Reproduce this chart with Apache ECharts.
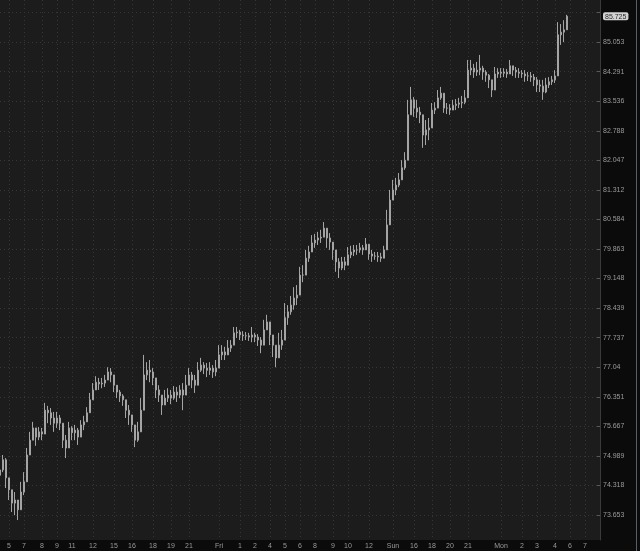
<!DOCTYPE html>
<html><head><meta charset="utf-8">
<script src="https://cdn.jsdelivr.net/npm/echarts@6/dist/echarts.min.js"></script>
<style>html,body{margin:0;padding:0;background:#0b0b0b}#c{width:640px;height:551px}</style>
</head><body><div id="c"></div><script>
const opens=[74.55,74.67,74.90,74.49,74.22,73.92,73.99,73.77,74.17,74.40,
75.01,75.35,75.63,75.42,75.54,75.49,76.04,75.98,75.86,75.74,
75.86,75.74,75.35,75.17,75.63,75.52,75.58,75.42,75.70,75.77,
75.98,76.28,76.51,76.69,76.65,76.67,76.74,76.93,76.86,76.62,
76.46,76.37,76.28,76.04,75.93,75.70,75.35,75.54,76.04,76.86,
76.97,76.93,76.79,76.51,76.39,76.16,76.32,76.39,76.32,76.46,
76.39,76.51,76.39,76.62,76.86,76.74,76.62,76.97,77.09,77.02,
76.97,77.02,76.93,77.02,77.33,77.40,77.33,77.49,77.56,77.85,
77.87,77.80,77.78,77.78,77.75,77.80,77.75,77.68,77.56,77.92,
78.11,77.80,77.56,77.26,77.56,77.68,78.21,78.35,78.51,78.68,
78.75,79.23,79.23,79.64,79.79,80.01,80.08,80.13,80.15,80.37,
80.13,80.03,79.84,79.55,79.40,79.55,79.47,79.72,79.79,79.84,
79.84,79.89,79.84,79.98,79.74,79.69,79.69,79.67,79.64,79.84,
80.45,81.06,81.31,81.43,81.56,81.86,82.05,83.19,83.57,83.36,
83.26,83.19,82.68,82.81,82.86,83.31,83.36,83.62,83.74,83.36,
83.36,83.31,83.43,83.46,83.49,83.51,83.62,84.33,84.38,84.28,
84.33,84.38,84.28,84.20,84.08,83.82,84.23,84.28,84.25,84.28,
84.23,84.44,84.33,84.28,84.25,84.23,84.18,84.18,84.15,84.08,
83.95,83.92,83.77,83.95,84.03,84.08,84.18,85.24,85.31,85.37];
const closes=[74.67,74.90,74.49,74.22,73.92,73.99,73.77,74.17,74.40,75.01,
75.35,75.63,75.42,75.54,75.49,76.04,75.98,75.86,75.74,75.86,
75.74,75.35,75.17,75.63,75.52,75.58,75.42,75.70,75.77,75.98,
76.28,76.51,76.69,76.65,76.67,76.74,76.93,76.86,76.62,76.46,
76.37,76.28,76.04,75.93,75.70,75.35,75.54,76.04,76.86,76.97,
76.93,76.79,76.51,76.39,76.16,76.32,76.39,76.32,76.46,76.39,
76.51,76.39,76.62,76.86,76.74,76.62,76.97,77.09,77.02,76.97,
77.02,76.93,77.02,77.33,77.40,77.33,77.49,77.56,77.85,77.87,
77.80,77.78,77.78,77.75,77.80,77.75,77.68,77.56,77.92,78.11,
77.80,77.56,77.26,77.56,77.68,78.21,78.35,78.51,78.68,78.75,
79.23,79.23,79.64,79.79,80.01,80.08,80.13,80.15,80.37,80.13,
80.03,79.84,79.55,79.40,79.55,79.47,79.72,79.79,79.84,79.84,
79.89,79.84,79.98,79.74,79.69,79.69,79.67,79.64,79.84,80.45,
81.06,81.31,81.43,81.56,81.86,82.05,83.19,83.57,83.36,83.26,
83.19,82.68,82.81,82.86,83.31,83.36,83.62,83.74,83.36,83.36,
83.31,83.43,83.46,83.49,83.51,83.62,84.33,84.38,84.28,84.33,
84.38,84.28,84.20,84.08,83.82,84.23,84.28,84.25,84.28,84.23,
84.44,84.33,84.28,84.25,84.23,84.18,84.18,84.15,84.08,83.95,
83.92,83.77,83.95,84.03,84.08,84.18,85.24,85.31,85.37,85.725];
const highs=[74.85,75.01,74.94,74.49,74.22,74.17,73.99,74.40,74.62,75.17,
75.54,75.77,75.63,75.65,75.63,76.21,76.14,76.09,76.00,76.00,
75.93,75.74,75.47,75.77,75.67,75.70,75.63,75.81,75.91,76.11,
76.44,76.67,76.83,76.79,76.79,76.86,77.04,77.02,76.86,76.62,
76.51,76.41,76.28,76.16,75.93,75.70,75.77,76.32,77.33,77.16,
77.21,77.02,76.79,76.62,76.39,76.51,76.55,76.51,76.60,76.58,
76.62,76.67,76.86,77.02,76.93,76.86,77.16,77.26,77.16,77.14,
77.16,77.09,77.21,77.56,77.56,77.52,77.68,77.68,77.99,77.99,
77.92,77.89,77.87,77.85,77.99,77.85,77.82,77.75,78.16,78.28,
78.11,77.80,77.56,77.85,77.92,78.56,78.51,78.73,78.94,78.99,
79.43,79.47,79.84,79.94,80.20,80.23,80.28,80.33,80.52,80.37,
80.25,80.03,79.84,79.64,79.67,79.67,79.91,79.94,79.96,79.96,
80.01,79.96,80.13,79.98,79.84,79.79,79.79,79.77,79.94,80.82,
81.31,81.56,81.61,81.73,82.05,82.25,83.57,83.90,83.64,83.57,
83.39,83.19,83.06,83.11,83.49,83.51,83.82,83.90,83.74,83.49,
83.46,83.57,83.59,83.62,83.67,83.82,84.59,84.59,84.49,84.54,
84.72,84.44,84.33,84.23,84.08,84.41,84.38,84.38,84.38,84.36,
84.59,84.44,84.41,84.38,84.33,84.33,84.28,84.28,84.23,84.15,
84.08,84.08,84.13,84.15,84.18,84.33,85.57,85.52,85.62,85.76];
const lows=[74.40,74.62,74.26,73.99,73.72,73.65,73.54,73.77,74.10,74.40,
75.01,75.35,75.22,75.35,75.35,75.49,75.74,75.70,75.54,75.63,
75.58,75.17,74.94,75.17,75.35,75.35,75.24,75.42,75.58,75.77,
75.98,76.28,76.51,76.51,76.55,76.58,76.74,76.69,76.46,76.32,
76.23,76.14,75.86,75.70,75.54,75.19,75.31,75.54,76.04,76.74,
76.69,76.62,76.32,76.23,75.93,76.16,76.23,76.18,76.28,76.23,
76.32,76.04,76.39,76.62,76.55,76.44,76.62,76.93,76.88,76.81,
76.86,76.79,76.83,77.02,77.21,77.21,77.33,77.40,77.56,77.73,
77.68,77.66,77.68,77.66,77.63,77.63,77.54,77.37,77.56,77.92,
77.56,77.28,77.04,77.26,77.45,77.68,78.04,78.28,78.40,78.51,
78.75,79.06,79.23,79.55,79.79,79.89,79.96,80.01,80.15,79.89,
79.84,79.60,79.31,79.16,79.35,79.35,79.47,79.64,79.69,79.72,
79.77,79.72,79.84,79.60,79.55,79.60,79.55,79.55,79.64,79.84,
80.45,81.06,81.18,81.38,81.56,81.81,82.05,83.19,83.14,83.11,
82.98,82.36,82.43,82.55,82.86,83.21,83.36,83.57,83.24,83.21,
83.19,83.31,83.31,83.36,83.36,83.46,83.62,84.20,84.13,84.18,
84.20,84.08,84.03,83.87,83.64,83.82,84.13,84.13,84.15,84.13,
84.23,84.18,84.13,84.13,84.13,84.03,84.05,84.03,83.92,83.77,
83.77,83.57,83.74,83.87,83.95,84.00,84.18,84.98,85.05,85.37];

const yTickValues=[73.653,74.318,74.989,75.667,76.351,77.04,77.737,78.439,79.148,79.863,80.584,81.312,82.047,82.788,83.536,84.291,85.053,85.821];
const yTickLabels=['73.653','74.318','74.989','75.667','76.351','77.04','77.737','78.439','79.148','79.863','80.584','81.312','82.047','82.788','83.536','84.291','85.053',''];
const lastPrice=85.725;
const lastPriceText='85.725';
const xTickText=['5','7','8','9','11','12','15','16','18','19','21','Fri','1','2','4','5','6','8','9','10','12','Sun','16','18','20','21','Mon','2','3','4','6','7'];
const xTickBar=[3,8,14,19,24,31,38,44,51,57,63,73,80,85,90,95,100,105,111,116,123,131,138,144,150,156,167,174,179,185,190,195];
const slotCount=201;
const yMin=73.095, yMax=86.148;

const categories=[];
for(let i=0;i<slotCount;i++) categories.push(String(i));
const ohlc=closes.map((c,i)=>[opens[i],c,lows[i],highs[i]]);
const tickSet=new Set(xTickBar);
const labelVals=yTickValues.filter((v,i)=>yTickLabels[i]!=='').concat([lastPrice]);

const chart=echarts.init(document.getElementById('c'),null,{renderer:'canvas'});
const gridColor='#363636';
chart.setOption({
  backgroundColor:'#0b0b0b',
  animation:false,
  grid:{left:0,right:40,top:0,bottom:11,show:true,backgroundColor:'#1c1c1c',borderWidth:0},
  xAxis:{type:'category',data:categories,boundaryGap:false,
    axisLine:{show:false},axisTick:{show:false},
    axisLabel:{interval:(i)=>tickSet.has(i),
      formatter:(v)=>{const k=xTickBar.indexOf(parseInt(v,10));return k>=0?xTickText[k]:'';},
      color:'#9a9a9a',fontSize:7,margin:3,fontFamily:'Liberation Sans'},
    splitLine:{show:true,interval:(i)=>tickSet.has(i),lineStyle:{color:gridColor,type:[1,3],width:1}}},
  yAxis:{type:'log',logBase:10,position:'right',min:yMin,max:yMax,
    axisLine:{show:true,lineStyle:{color:'#3a3a3a'}},
    axisTick:{show:true,inside:true,length:3,customValues:yTickValues,lineStyle:{color:'#5a5a5a'}},
    axisLabel:{customValues:labelVals,color:'#9a9a9a',fontSize:7,margin:3,fontFamily:'Liberation Sans',
      formatter:(v)=>{
        if(Math.abs(v-lastPrice)<1e-6) return '{cur|'+lastPriceText+'}';
        let best=0,bd=1e9;
        yTickValues.forEach((t,i)=>{const d=Math.abs(t-v);if(d<bd){bd=d;best=i;}});
        return yTickLabels[best];
      },
      rich:{cur:{backgroundColor:'#d2d2d2',color:'#2a2a2a',fontSize:7,fontFamily:'Liberation Sans',padding:[1,2,0,2],borderRadius:2}}},
    splitLine:{show:true,lineStyle:{color:gridColor,type:[1,3],width:1}}},
  graphic:[{type:'rect',shape:{x:636,y:0,width:1,height:551},style:{fill:'#55606b'},silent:true}],
  series:[{type:'candlestick',data:ohlc,barWidth:1.5,
    itemStyle:{color:'#a4a4a4',color0:'#a4a4a4',borderColor:'#a4a4a4',borderColor0:'#a4a4a4',borderWidth:1}}]
});
</script></body></html>
